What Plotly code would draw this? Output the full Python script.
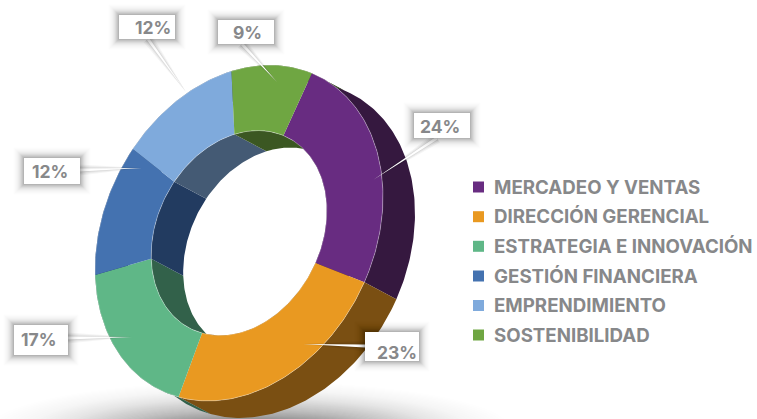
import numpy as np
import plotly.graph_objects as go

# ---- data ----
categories = ["MERCADEO Y VENTAS", "DIRECCIÓN GERENCIAL", "ESTRATEGIA E INNOVACIÓN",
              "GESTIÓN FINANCIERA", "EMPRENDIMIENTO", "SOSTENIBILIDAD"]
values = [24, 23, 17, 12, 12, 9]
face_colors = ["#682C81", "#E99921", "#5FB787", "#4472B0", "#7FAADC", "#6FA642"]
wall_colors = ["#35183F", "#7A4F12", "#32614A", "#223B60", "#445A74", "#3B5722"]

# ---- projection of the ring (pixel-like axes) ----
CX, CY = 239.0, 233.0
AX, CC, DD = 144.0, -36.2, 164.0
HOLE = 0.61
EX, EY = 32.0, 17.0
START = -59.6
GREY = "#87888A"
FONT = "Inter"


def arc(a0, a1, r=1.0, shift=0.0):
    t = np.radians(np.linspace(a0, a1, max(8, int(abs(a1 - a0)))))
    x = CX + r * AX * np.cos(t) + shift * EX
    y = CY + r * (CC * np.cos(t) + DD * np.sin(t)) + shift * EY
    return x, y


def band(p, q):
    return np.r_[p[0], q[0][::-1], p[0][0]], np.r_[p[1], q[1][::-1], p[1][0]]


def poly(xy, color):
    return go.Scatter(x=xy[0], y=xy[1], mode="lines", fill="toself", fillcolor=color,
                      line=dict(width=0, color=color), hoverinfo="skip", showlegend=False)


edges = START + np.r_[0, np.cumsum(values)] / sum(values) * 360
fig = go.Figure()
slices = list(zip(edges[:-1], edges[1:], face_colors, wall_colors))

for a0, a1, fc, wc in slices:
    fig.add_trace(poly(band(arc(a0, a1), arc(a0, a1, shift=1)), wc))
for a0, a1, fc, wc in slices:
    fig.add_trace(poly(band(arc(a0, a1, HOLE), arc(a0, a1, HOLE, shift=1)), wc))
for a0, a1, fc, wc in slices:
    fig.add_trace(poly(band(arc(a0, a1), arc(a0, a1, HOLE)), fc))
for a0, a1, fc, wc in slices:
    for r in (1.0, HOLE):
        x, y = arc(a0, a1, r)
        fig.add_trace(go.Scatter(x=x, y=y, mode="lines", hoverinfo="skip", showlegend=False,
                                 line=dict(width=0.7, color="rgba(255,255,255,0.45)")))

# legend drawn as square markers with text
legend_x = [478.5] * 6
legend_y = [187, 216.7, 246.3, 276, 305.5, 335]
fig.add_trace(go.Scatter(
    x=legend_x, y=legend_y, mode="markers", hoverinfo="skip", showlegend=False,
    marker=dict(symbol="square", size=11, color=face_colors, line=dict(width=0))))
fig.add_trace(go.Scatter(
    x=[494] * 6, y=[v + 2 for v in legend_y], mode="text", text=categories,
    textposition="middle right", hoverinfo="skip", showlegend=False,
    textfont=dict(family=FONT, size=18.7, color=GREY, weight=700)))

# ---- ground shadow ----
shapes = []
N = 40
for i in range(N):
    u = 1 - i / N
    rx, ry = 85 + 175 * u, 9 + 38 * u
    shapes.append(dict(type="circle", layer="below", xref="x", yref="y",
                       x0=250 - rx, x1=250 + rx, y0=428 - ry, y1=428 + ry,
                       fillcolor="#222222", opacity=0.004 + 0.032 * (1 - u) ** 2,
                       line=dict(width=0)))

# ---- value labels: box, text anchor, leader start and tip ----
boxes = [(414, 470, 113, 138), (365, 419, 332, 361), (14, 68, 325, 355),
         (24, 80, 158, 184), (119, 175, 15, 39), (218, 274, 20, 44)]
text_pos = [(440, 126), (397, 352), (39, 339), (50, 171), (152.5, 27), (247.5, 32)]
leader_from = [(437, 138), (365, 346), (68, 338), (80, 170), (148, 39), (242, 44)]
leader_to = [(373, 180), (303, 344), (132, 337), (142, 168), (186, 92), (277, 82)]

for (x0, y0), (x1, y1) in zip(leader_from, leader_to):
    dx, dy = x1 - x0, y1 - y0
    n = np.hypot(dx, dy)
    nx, ny = -dy / n, dx / n
    for w, op in zip((11, 8, 5), (0.04, 0.05, 0.07)):
        shapes.append(dict(type="path", layer="above", xref="x", yref="y",
                           path=f"M{x0 + nx * w / 2},{y0 + ny * w / 2} L{x1},{y1} "
                                f"L{x0 - nx * w / 2},{y0 - ny * w / 2} Z",
                           fillcolor="#000000", opacity=op, line=dict(width=0)))
    shapes.append(dict(type="path", layer="above", xref="x", yref="y",
                       path=f"M{x0 + nx * 1.5},{y0 + ny * 1.5} L{x1},{y1} "
                            f"L{x0 - nx * 1.5},{y0 - ny * 1.5} Z",
                       fillcolor="#FFFFFF", line=dict(width=0)))

for x0, x1, y0, y1 in boxes:
    K = 14
    for k in range(K, 0, -1):
        g = 0.75 * k
        shapes.append(dict(type="rect", layer="above", xref="x", yref="y",
                           x0=x0 - g, x1=x1 + g, y0=y0 - g, y1=y1 + g,
                           fillcolor="#000000", opacity=0.006 + 0.06 * (1 - k / K) ** 2,
                           line=dict(width=0)))
    shapes.append(dict(type="rect", layer="above", xref="x", yref="y",
                       x0=x0, x1=x1, y0=y0, y1=y1, fillcolor="#FFFFFF", line=dict(width=0)))

annotations = [dict(x=p[0], y=p[1], xref="x", yref="y", text=f"{v}%", showarrow=False,
                    xanchor="center", yanchor="middle",
                    font=dict(family=FONT, size=17.5, color=GREY, weight=700))
               for v, p in zip(values, text_pos)]

fig.update_layout(
    width=757, height=419, margin=dict(l=0, r=0, t=0, b=0),
    paper_bgcolor="white", plot_bgcolor="white", showlegend=False,
    xaxis=dict(range=[0, 757], visible=False, fixedrange=True),
    yaxis=dict(range=[419, 0], visible=False, fixedrange=True),
    shapes=shapes, annotations=annotations,
)
fig.write_html("out.html", config=dict(displayModeBar=False),
               post_script="document.body.style.margin='0';document.body.style.overflow='hidden';")
